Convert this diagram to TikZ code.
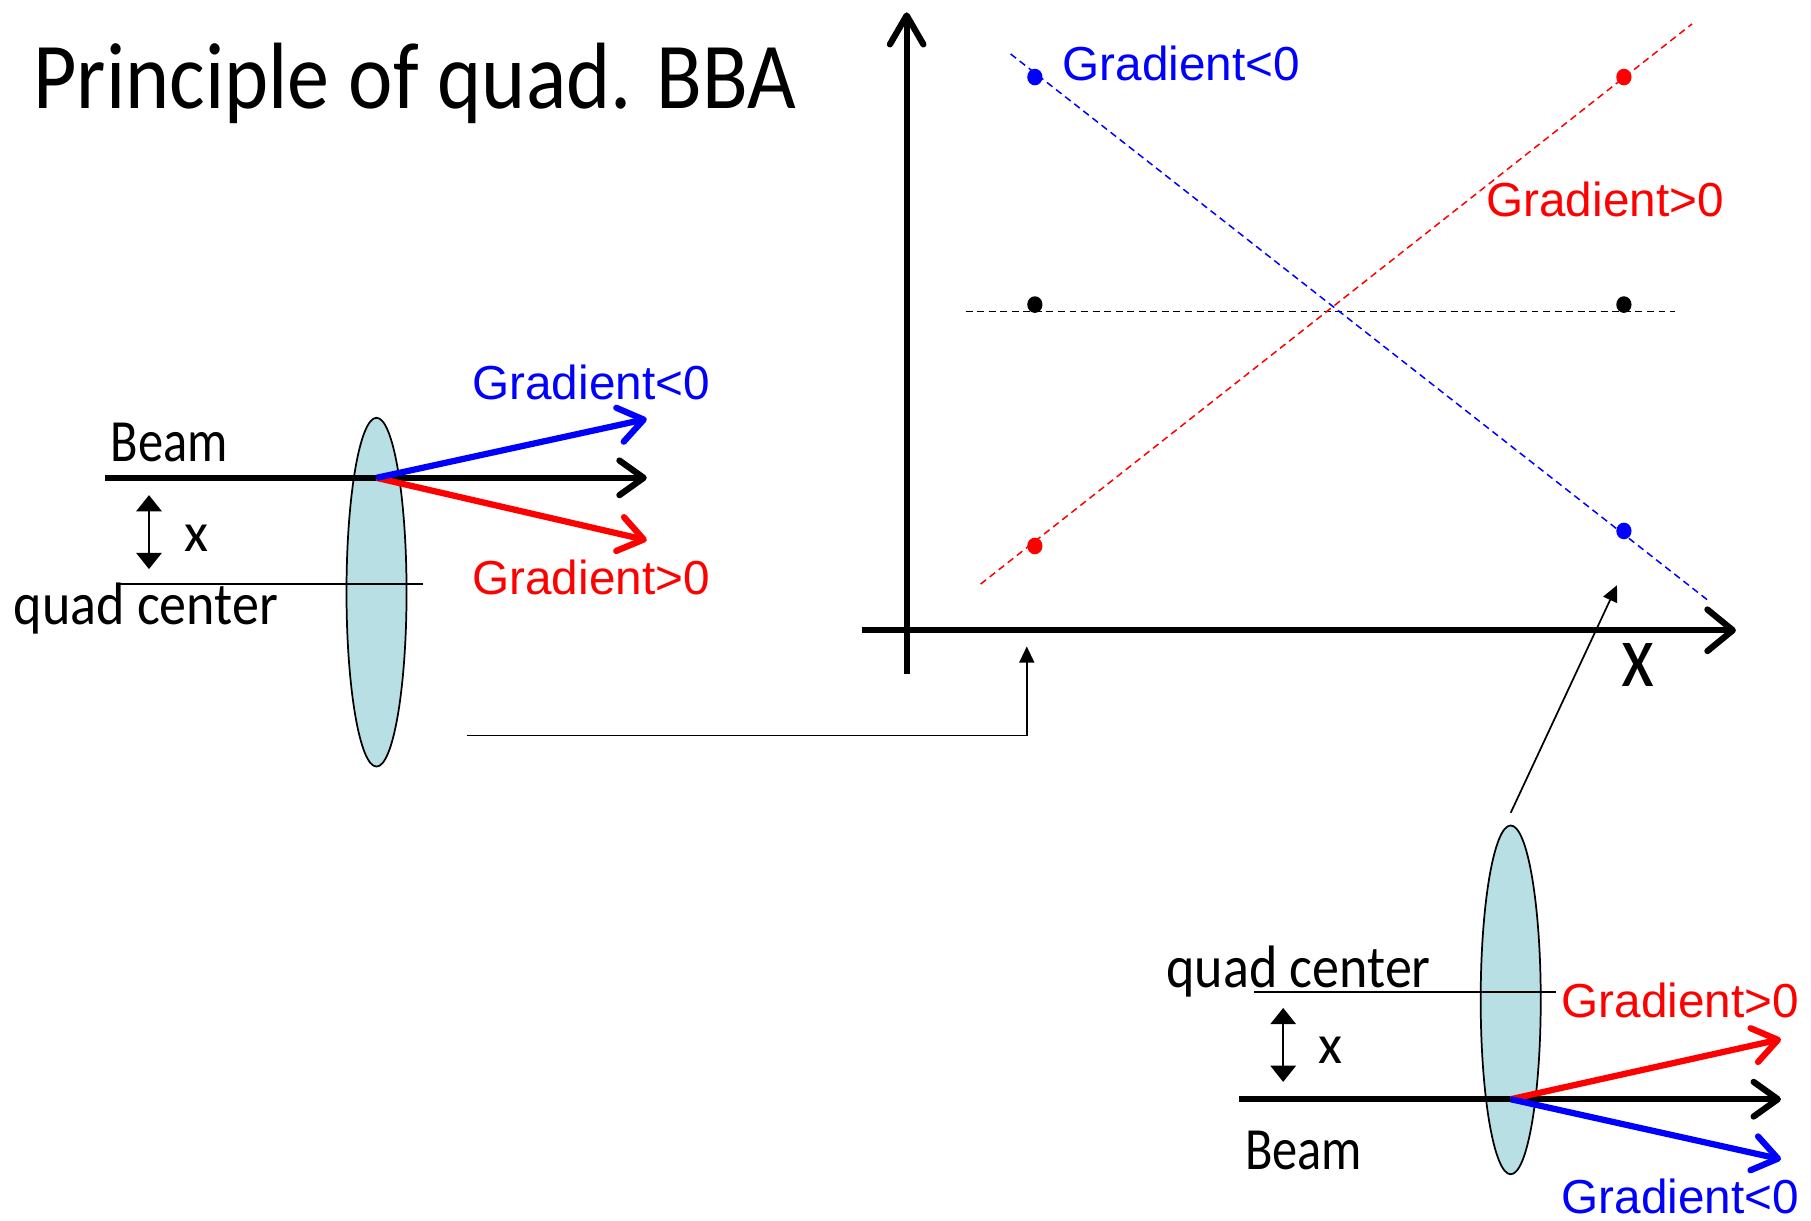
\documentclass[tikz,border=0pt]{standalone}
\usepackage{fontspec}
\setmainfont{Liberation Sans}
\newfontfamily\handfont{Carlito}
\usetikzlibrary{arrows.meta,shapes.geometric}
\definecolor{lensfill}{RGB}{184,223,227}
\tikzset{
  every node/.style={inner sep=0pt,outer sep=0pt},
  gradlabel/.style={anchor=base west,font=\fontsize{20.65}{24}\selectfont},
  handlabel/.style={anchor=base west,font=\handfont\fontsize{24}{28}\selectfont},
  titlelabel/.style={anchor=base west,font=\handfont\fontsize{40}{46}\selectfont},
  yaxisline/.style={line width=2.7pt,-{Straight Barb[length=12.5pt,width=14.5pt,round]}},
  xaxisline/.style={line width=2.7pt,-{Straight Barb[length=11pt,width=18pt,round]}},
  beamline/.style={line width=2.7pt,-{Straight Barb[length=10.5pt,width=15pt,round]}},
  thinline/.style={line width=0.75pt},
  stealthline/.style={line width=0.75pt,-{Stealth[inset=0pt,length=7pt,width=6.5pt]}},
  dimline/.style={line width=0.8pt,{Stealth[inset=0pt,length=7pt,width=11pt]}-{Stealth[inset=0pt,length=7pt,width=11pt]}},
  dashline/.style={line width=0.65pt,dash pattern=on 3pt off 2pt},
  lens/.style={ellipse,draw=black,line width=0.75pt,fill=lensfill,minimum width=26pt,minimum height=151pt},
  datadot/.style={ellipse,minimum width=6.6pt,minimum height=7.2pt}
}
\begin{document}
\begin{tikzpicture}[x=0.5pt,y=-0.5pt]
\useasboundingbox (0,-0.7) rectangle (1568,1056.3);
% title
\node[titlelabel] (title) at (29,93) {\scalebox{0.91}[1.02]{Principle of quad. BBA}};
% axes
\coordinate (yfrom) at (785,583); \coordinate (yto) at (785,10);
\coordinate (xfrom) at (746,545); \coordinate (xto) at (1503,545);
\draw[yaxisline] (yfrom) -- (yto);
\draw[xaxisline] (xfrom) -- (xto);
\node[handlabel,font=\handfont\fontsize{30}{34}\selectfont] (xlabel) at (1404,594) {\scalebox{1.1}[1.3]{x}};
% dashed lines
\coordinate (ka) at (836,269); \coordinate (kb) at (1450,269);
\coordinate (ba) at (875,46); \coordinate (bb) at (1480,520);
\coordinate (ra) at (849,505); \coordinate (rb) at (1465,20);
\draw[dashline,black] (ka) -- (kb);
\draw[dashline,blue] (ba) -- (bb);
\draw[dashline,red] (ra) -- (rb);
% dots
\node[datadot,fill=blue] (d1) at (896,66) {};
\node[datadot,fill=red] (d2) at (1406,66) {};
\node[datadot,fill=black] (d3) at (896,263) {};
\node[datadot,fill=black] (d4) at (1406,263) {};
\node[datadot,fill=red] (d5) at (896,472) {};
\node[datadot,fill=blue] (d6) at (1406,459) {};
\node[gradlabel,text=blue] (g1) at (920,69) {Gradient<0};
\node[gradlabel,text=red] (g2) at (1287,187) {Gradient>0};
% left lens
\node[lens] (lensL) at (326,512) {};
\coordinate (lq1) at (103,505); \coordinate (lq2) at (366,505);
\draw[thinline] (lq1) -- (lq2);
\coordinate (lb0) at (91,413); \coordinate (lb1) at (326,413);
\coordinate (lbe) at (560,413); \coordinate (lbu) at (560,362); \coordinate (lbd) at (560,467);
\draw[beamline] (lb0) -- (lbe);
\draw[beamline,red] (lb1) -- (lbd);
\draw[beamline,blue] (lb1) -- (lbu);
\coordinate (lx1) at (129,428); \coordinate (lx2) at (129,492);
\draw[dimline] (lx1) -- (lx2);
\node[handlabel] (lxl) at (160,477) {x};
\node[handlabel] (lquad) at (12,540) {\scalebox{0.975}[1.08]{quad center}};
\node[handlabel] (lbeam) at (96,399) {\scalebox{0.91}[1.08]{Beam}};
\node[gradlabel,text=blue] (g3) at (409,345) {Gradient<0};
\node[gradlabel,text=red] (g4) at (409,514) {Gradient>0};
% right lens
\node[lens] (lensR) at (1308,865) {};
\coordinate (rq1) at (1086,858); \coordinate (rq2) at (1347,858);
\draw[thinline] (rq1) -- (rq2);
\coordinate (rb0) at (1073,951); \coordinate (rb1) at (1308,951);
\coordinate (rbe) at (1542,951); \coordinate (rbu) at (1542,899); \coordinate (rbd) at (1542,1003);
\draw[beamline] (rb0) -- (rbe);
\draw[beamline,red] (rb1) -- (rbu);
\draw[beamline,blue] (rb1) -- (rbd);
\coordinate (rx1) at (1111,872); \coordinate (rx2) at (1111,936);
\draw[dimline] (rx1) -- (rx2);
\node[handlabel] (rxl) at (1142,920) {x};
\node[handlabel] (rquad) at (1010,854) {\scalebox{0.975}[1.08]{quad center}};
\node[handlabel] (rbeam) at (1078,1012) {\scalebox{0.91}[1.08]{Beam}};
\node[gradlabel,text=red] (g5) at (1352,880) {Gradient>0};
\node[gradlabel,text=blue] (g6) at (1352,1050) {Gradient<0};
% connectors
\coordinate (c1) at (404,636); \coordinate (c2) at (889,559);
\draw[stealthline] (c1) -| (c2);
\coordinate (c3) at (1308,703); \coordinate (c4) at (1400,506);
\draw[stealthline] (c3) -- (c4);
\end{tikzpicture}
\end{document}
